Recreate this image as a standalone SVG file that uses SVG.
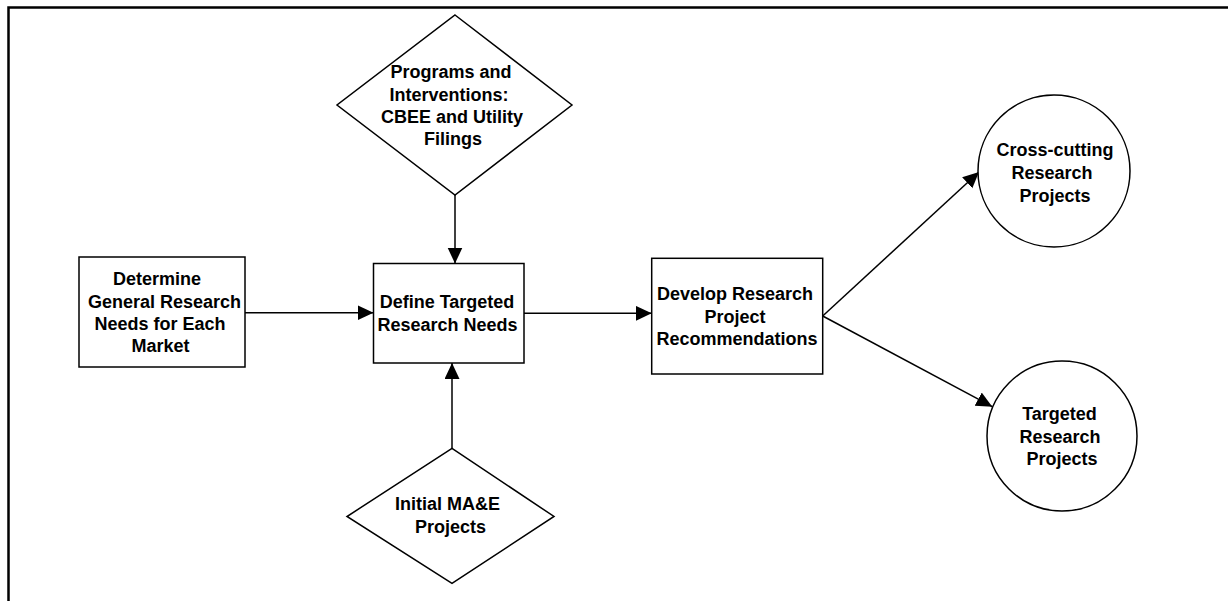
<svg xmlns="http://www.w3.org/2000/svg" width="1228" height="601" viewBox="0 0 1228 601">
<style>
.shape{fill:#fff;stroke:#000;stroke-width:1.5}
.lbl{font-family:"Liberation Sans",Arial,sans-serif;font-weight:bold;font-size:18px;fill:#000;text-anchor:middle}
.conn{fill:none;stroke:#000;stroke-width:1.5}
</style>
<defs>
<marker id="arr" markerWidth="17" markerHeight="16" refX="16" refY="7.5" orient="auto" markerUnits="userSpaceOnUse">
<path d="M0,0 L16,7.5 L0,15 Z" fill="#000"/>
</marker>
</defs>
<rect width="1228" height="601" fill="#fff"/>
<path d="M8.5,601 V7.5 H1228" fill="none" stroke="#000" stroke-width="2.5"/>
<g id="connectors">
<line class="conn" x1="455" y1="195" x2="455" y2="263.5" marker-end="url(#arr)"/>
<line class="conn" x1="452" y1="448" x2="452" y2="363" marker-end="url(#arr)"/>
<line class="conn" x1="245" y1="312.7" x2="373.5" y2="312.7" marker-end="url(#arr)"/>
<line class="conn" x1="524" y1="313.3" x2="651.7" y2="313.3" marker-end="url(#arr)"/>
<line class="conn" x1="822.7" y1="316" x2="979" y2="172" marker-end="url(#arr)"/>
<line class="conn" x1="822.7" y1="316" x2="992.3" y2="406.7" marker-end="url(#arr)"/>
</g>
<g id="programs">
<polygon class="shape" points="455,15 572,105 455,195 337,105"/>
<text class="lbl" x="451" y="78.3">Programs and</text>
<text class="lbl" x="449" y="100.7">Interventions:</text>
<text class="lbl" x="452" y="123.2">CBEE and Utility</text>
<text class="lbl" x="453" y="145.3">Filings</text>
</g>
<g id="determine">
<rect class="shape" x="79" y="257" width="166" height="110"/>
<text class="lbl" x="157" y="285">Determine</text>
<text class="lbl" x="164.5" y="307.5">General Research</text>
<text class="lbl" x="160" y="329.8">Needs for Each</text>
<text class="lbl" x="160.5" y="352">Market</text>
</g>
<g id="define">
<rect class="shape" x="373.5" y="263.5" width="150.5" height="99.5"/>
<text class="lbl" x="447" y="308.3">Define Targeted</text>
<text class="lbl" x="447.5" y="330.7">Research Needs</text>
</g>
<g id="develop">
<rect class="shape" x="651.7" y="258.3" width="171" height="115.7"/>
<text class="lbl" x="735" y="300">Develop Research</text>
<text class="lbl" x="735" y="322.5">Project</text>
<text class="lbl" x="737" y="344.5">Recommendations</text>
</g>
<g id="crosscutting">
<circle class="shape" cx="1054" cy="171" r="76"/>
<text class="lbl" x="1055" y="156">Cross-cutting</text>
<text class="lbl" x="1052" y="179">Research</text>
<text class="lbl" x="1055" y="201.5">Projects</text>
</g>
<g id="targeted">
<circle class="shape" cx="1062" cy="436" r="75"/>
<text class="lbl" x="1059.5" y="420">Targeted</text>
<text class="lbl" x="1060" y="442.5">Research</text>
<text class="lbl" x="1062" y="465">Projects</text>
</g>
<g id="initial">
<polygon class="shape" points="452,448.3 554,516.5 452,583.3 347,516.5"/>
<text class="lbl" x="447.5" y="510">Initial MA&amp;E</text>
<text class="lbl" x="450.5" y="532.5">Projects</text>
</g>
</svg>
